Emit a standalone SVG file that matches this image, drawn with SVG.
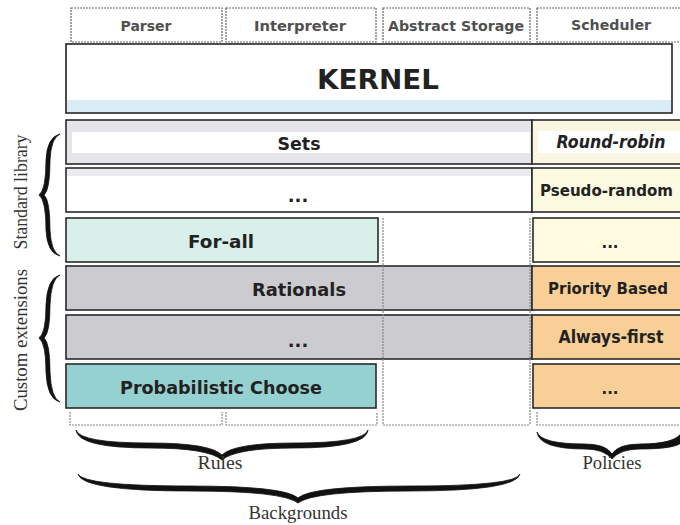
<svg xmlns="http://www.w3.org/2000/svg" width="680" height="525" viewBox="0 0 680 525">
  <style>
    .tab { fill: #ffffff; stroke: #666; stroke-width: 1.2; stroke-dasharray: 2 1; }
    .tabtxt { font-family: "DejaVu Sans", Verdana, sans-serif; font-weight: bold; font-size: 14px; fill: #505050; text-anchor: middle; }
    .cell { stroke: #2a2a2a; stroke-width: 1.6; }
    .lbl { font-family: "DejaVu Sans", Verdana, sans-serif; font-weight: bold; font-size: 18px; fill: #222; text-anchor: middle; }
    .pol { font-size: 17px; }
    .pol-wide { font-size: 15px; }
    .start { text-anchor: start; }
    .serif { font-family: "Liberation Serif", "Times New Roman", serif; font-size: 18px; fill: #333; text-anchor: middle; }
    .brace { fill: #111; stroke: #111; stroke-width: 0.8; stroke-linejoin: round; }
    .dot { fill: none; stroke: #888; stroke-width: 1.2; stroke-dasharray: 2 1; }
  </style>

  <rect width="680" height="525" fill="#ffffff"/>

  <!-- component tabs along the top -->
  <g id="tab-parser">
    <rect class="tab" x="71" y="8" width="151" height="34"/>
    <text class="tabtxt" x="146" y="31" textLength="51" lengthAdjust="spacingAndGlyphs">Parser</text>
  </g>
  <g id="tab-interpreter">
    <rect class="tab" x="226" y="8" width="150" height="34"/>
    <text class="tabtxt" x="300" y="31" textLength="92" lengthAdjust="spacingAndGlyphs">Interpreter</text>
  </g>
  <g id="tab-storage">
    <rect class="tab" x="383" y="8" width="147" height="34"/>
    <text class="tabtxt" x="456" y="31" textLength="136" lengthAdjust="spacingAndGlyphs">Abstract Storage</text>
  </g>
  <g id="tab-scheduler">
    <rect class="tab" x="537" y="8" width="150" height="34"/>
    <text class="tabtxt" x="611" y="30" textLength="80" lengthAdjust="spacingAndGlyphs">Scheduler</text>
  </g>

  <!-- kernel -->
  <g id="kernel">
    <rect x="66" y="44" width="606" height="69" fill="#ffffff" stroke="#222" stroke-width="1.6"/>
    <rect x="67" y="100" width="604" height="12" fill="#d9ebf4"/>
    <text x="378" y="89" font-family="DejaVu Sans, Verdana, sans-serif" font-weight="bold" font-size="27" fill="#222" text-anchor="middle" textLength="122" lengthAdjust="spacingAndGlyphs">KERNEL</text>
  </g>

  <!-- standard library rows -->
  <g id="sets">
    <rect class="cell" x="66" y="120" width="466" height="44" fill="#e6e6ea"/>
    <rect x="72" y="132" width="458" height="21" fill="#ffffff"/>
    <text class="lbl" x="299" y="150" textLength="43" lengthAdjust="spacingAndGlyphs">Sets</text>
  </g>
  <g id="round-robin">
    <rect class="cell" x="532" y="120" width="160" height="44" fill="#fbf6e2"/>
    <rect x="538" y="131" width="142" height="22" fill="#ffffff"/>
    <text class="lbl pol" x="611" y="148" font-style="italic" textLength="109" lengthAdjust="spacingAndGlyphs">Round-robin</text>
  </g>

  <g id="std-more">
    <rect class="cell" x="66" y="168" width="466" height="44" fill="#ffffff"/>
    <rect x="67" y="169" width="464" height="7" fill="#ececef"/>
    <text class="lbl" x="298" y="202">...</text>
  </g>
  <g id="pseudo-random">
    <rect class="cell" x="532" y="168" width="160" height="44" fill="#fdfae2"/>
    <text class="lbl pol-wide start" x="540" y="196" textLength="133" lengthAdjust="spacingAndGlyphs">Pseudo-random</text>
  </g>

  <g id="for-all">
    <rect class="cell" x="66" y="218" width="312" height="44" fill="#d9efea"/>
    <text class="lbl" x="221" y="248" textLength="66" lengthAdjust="spacingAndGlyphs">For-all</text>
  </g>
  <g id="std-policy-more">
    <rect class="cell" x="533" y="218" width="159" height="44" fill="#fefbe1"/>
    <text class="lbl pol-wide" x="610" y="248">...</text>
  </g>

  <!-- custom extension rows -->
  <g id="rationals">
    <rect class="cell" x="66" y="266" width="466" height="44" fill="#cbcbd0"/>
    <text class="lbl" x="299" y="296" textLength="94" lengthAdjust="spacingAndGlyphs">Rationals</text>
  </g>
  <g id="priority-based">
    <rect class="cell" x="532" y="266" width="160" height="44" fill="#f9cf98"/>
    <text class="lbl pol-wide" x="608" y="294" textLength="120" lengthAdjust="spacingAndGlyphs">Priority Based</text>
  </g>

  <g id="custom-more">
    <rect class="cell" x="66" y="315" width="466" height="44" fill="#cbcbd0"/>
    <text class="lbl" x="298" y="347">...</text>
  </g>
  <g id="always-first">
    <rect class="cell" x="532" y="315" width="160" height="44" fill="#f9cf98"/>
    <text class="lbl pol" x="611" y="343" textLength="105" lengthAdjust="spacingAndGlyphs">Always-first</text>
  </g>

  <g id="probabilistic-choose">
    <rect class="cell" x="66" y="364" width="310" height="44" fill="#95d1d1"/>
    <text class="lbl" x="221" y="394" textLength="202" lengthAdjust="spacingAndGlyphs">Probabilistic Choose</text>
  </g>
  <g id="custom-policy-more">
    <rect class="cell" x="533" y="364" width="159" height="44" fill="#f9cf98"/>
    <text class="lbl pol-wide" x="610" y="394">...</text>
  </g>

  <!-- dotted column guides and bottom brackets -->
  <g id="guides">
    <path class="dot" d="M383,218 V425 M530,218 V425"/>
    <path class="dot" d="M70,412 V425 H222 V412"/>
    <path class="dot" d="M226,412 V425 H377 V412"/>
    <path class="dot" d="M383,425 H530"/>
    <path class="dot" d="M537,412 V425 H680"/>
  </g>

  <!-- braces (filled, tapered at the ends) -->
  <g id="braces">
    <path class="brace" d="M60,134 Q47,137 46,160 Q46,190 39,195 Q46,200 46,230 Q47,253 60,256 Q51,252 50,230 Q50,200 44,195 Q50,190 50,160 Q51,138 60,134 Z"/>
    <path class="brace" d="M60,275 Q47,278 46,305 Q46,333 39,338 Q46,343 46,372 Q47,399 60,402 Q51,398 50,372 Q50,343 44,338 Q50,333 50,305 Q51,279 60,275 Z"/>
    <path class="brace" d="M76,430 Q80,443 150,443 Q210,443 222,455 Q234,443 294,443 Q364,443 368,430 Q366,448 294,448 Q236,448 222,460 Q208,448 150,448 Q78,448 76,430 Z"/>
    <path class="brace" d="M78,474 Q84,486 190,486 Q285,486 298,498 Q311,486 410,486 Q516,486 520,474 Q516,491 410,491 Q313,491 298,503 Q283,491 190,491 Q82,491 78,474 Z"/>
    <path class="brace" d="M537,432 Q541,444 585,444 Q606,444 612,454 Q618,444 640,444 Q676,444 682,432 L682,442 Q676,449 640,449 Q620,449 612,459 Q604,449 585,449 Q539,449 537,432 Z"/>
  </g>

  <!-- group labels -->
  <g id="labels">
    <text class="serif" transform="translate(27,192) rotate(-90)" textLength="115" lengthAdjust="spacingAndGlyphs">Standard library</text>
    <text class="serif" transform="translate(27,340) rotate(-90)" textLength="142" lengthAdjust="spacingAndGlyphs">Custom extensions</text>
    <text class="serif" x="220" y="469" textLength="45" lengthAdjust="spacingAndGlyphs">Rules</text>
    <text class="serif" x="612" y="469" textLength="59" lengthAdjust="spacingAndGlyphs">Policies</text>
    <text class="serif" x="298" y="519" textLength="99" lengthAdjust="spacingAndGlyphs">Backgrounds</text>
  </g>
</svg>
